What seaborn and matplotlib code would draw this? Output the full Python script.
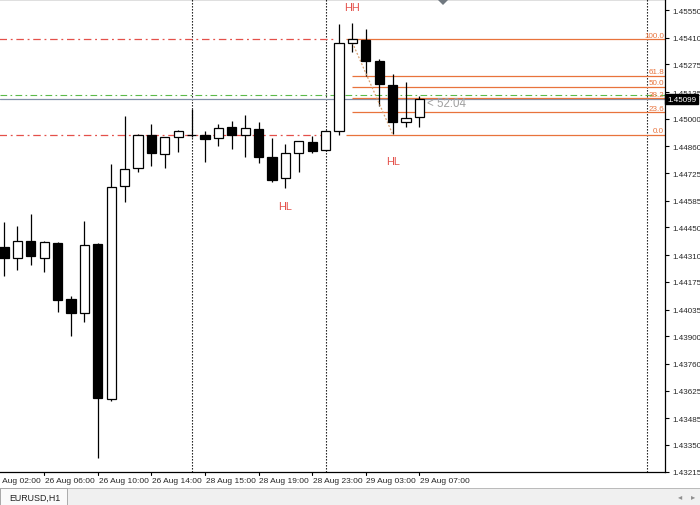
import numpy as np
import pandas as pd
import matplotlib
matplotlib.use("Agg")
import matplotlib.pyplot as plt
import matplotlib.patches as mpatches
import seaborn as sns

# EURUSD H1 candles, 26 Aug 03:00 .. 29 Aug 07:00
opens = [1.44353, 1.44297, 1.44382, 1.44297, 1.44372, 1.44089, 1.44018, 1.44367,
         1.43583, 1.44658, 1.44749, 1.44918, 1.44822, 1.44906, 1.44920, 1.44918,
         1.44903, 1.44957, 1.44916, 1.44948, 1.44805, 1.44699, 1.44827, 1.44881,
         1.44844, 1.44937, 1.45385, 1.45398, 1.45292, 1.45172, 1.44982, 1.45007]
highs = [1.44479, 1.44458, 1.44518, 1.44383, 1.44375, 1.44104, 1.44481, 1.44370,
         1.44771, 1.45012, 1.44923, 1.44974, 1.44908, 1.44941, 1.45049, 1.44940,
         1.44974, 1.44990, 1.45021, 1.44982, 1.44901, 1.44871, 1.44888, 1.44914,
         1.44941, 1.45479, 1.45483, 1.45454, 1.45302, 1.45228, 1.45184, 1.45117]
lows = [1.44205, 1.44237, 1.44262, 1.44225, 1.44021, 1.43900, 1.43971, 1.43283,
        1.43573, 1.44578, 1.44732, 1.44763, 1.44753, 1.44833, 1.44910, 1.44780,
        1.44861, 1.44847, 1.44805, 1.44776, 1.44679, 1.44650, 1.44729, 1.44827,
        1.44839, 1.44919, 1.45336, 1.45215, 1.45066, 1.44923, 1.44960, 1.44960]
closes = [1.44296, 1.44382, 1.44304, 1.44375, 1.44082, 1.44018, 1.44362, 1.43586,
          1.44653, 1.44746, 1.44919, 1.44827, 1.44906, 1.44940, 1.44918, 1.44898,
          1.44952, 1.44919, 1.44953, 1.44805, 1.44690, 1.44827, 1.44886, 1.44839,
          1.44940, 1.45382, 1.45402, 1.45291, 1.45177, 1.44985, 1.45005, 1.45099]

# time axis labels (every 4th bar)
tick_bars = [-1, 3, 7, 11, 15, 19, 23, 27, 31]
tick_labels = ["26 Aug 02:00", "26 Aug 06:00", "26 Aug 10:00", "26 Aug 14:00",
               "28 Aug 15:00", "28 Aug 19:00", "28 Aug 23:00", "29 Aug 03:00",
               "29 Aug 07:00"]
separators = [14, 24, 48]  # day breaks

price_ticks = [1.45550, 1.45410, 1.45275, 1.45135, 1.45000, 1.44860, 1.44725,
               1.44585, 1.44450, 1.44310, 1.44175, 1.44035, 1.43900, 1.43760,
               1.43625, 1.43485, 1.43350, 1.43215]

bid = 1.45099
ask = 1.45118
hh_level = 1.45403
hl_level = 1.44919
fib_ratios = [0.0, 23.6, 38.2, 50.0, 61.8, 100.0]

df = pd.DataFrame({"open": opens, "high": highs, "low": lows, "close": closes})
df["bar"] = np.arange(len(df))
df["up"] = df["close"] >= df["open"]

sns.set_style("white")
plt.rcParams["font.family"] = ["Liberation Sans", "DejaVu Sans"]

fig = plt.figure(figsize=(7, 5.06), dpi=100)
ax = fig.add_axes([0, 33 / 506, 665 / 700, 473 / 506])

# wicks and bodies
ax.vlines(df["bar"], df["low"], df["high"], color="black", lw=0.9, zorder=3)
body_lo = df[["open", "close"]].min(axis=1)
body_h = (df["close"] - df["open"]).abs().clip(lower=0.00002)
ax.bar(df["bar"], body_h, bottom=body_lo, width=0.68,
       color=np.where(df["up"], "white", "black"), edgecolor="black",
       linewidth=0.9, zorder=4)

# period separators
for s in separators:
    ax.axvline(s, color="black", ls=(0, (1.2, 1.5)), lw=0.8, zorder=2)

# horizontal levels
red = "#e4504a"
ax.hlines(hh_level, -1, 24.7, color=red, ls=(0, (6, 3, 1.5, 3)), lw=0.9, zorder=2)
ax.hlines(hl_level, -1, 24.3, color=red, ls=(0, (6, 3, 1.5, 3)), lw=0.9, zorder=2)
ax.axhline(ask, color="#5cba4a", ls=(0, (6, 3, 1.5, 3)), lw=0.8, zorder=2)
ax.axhline(bid, color="#8290a8", lw=0.9, zorder=2)

# fibonacci retracement
fib_col = "#e8733c"
for r in fib_ratios:
    lvl = hl_level + (hh_level - hl_level) * r / 100
    start = 25.5 if r in (0.0, 100.0) else 26
    ax.hlines(lvl, start, 49.4, color=fib_col, lw=0.9, zorder=2)
    ax.text(49.25, lvl + 0.00003, f"{r:.1f}", color=fib_col, fontsize=5.8,
            ha="right", va="bottom", zorder=5)

# zigzag between the swing points
zz = pd.DataFrame({"bar": [26, 29], "price": [opens[26], lows[29]]})
sns.lineplot(data=zz, x="bar", y="price", ax=ax, color="#d8a070",
             ls=(0, (1.5, 1.5)), lw=0.9, zorder=3)

# swing labels
ax.text(26, 1.45565, "HH", color=red, fontsize=7.8, ha="center", va="center")
ax.text(21, 1.44559, "HL", color=red, fontsize=7.8, ha="center", va="center")
ax.text(29, 1.44786, "HL", color=red, fontsize=7.8, ha="center", va="center")
ax.text(31.55, bid - 0.00019, "< 52:04", color="#a0a0a0", fontsize=8.3,
        ha="left", va="center")

ax.set_xlim(-0.3, 49.33)
ax.set_ylim(1.43213, 1.45606)

ax.yaxis.tick_right()
ax.set_yticks(price_ticks)
ax.set_yticklabels([f"{p:.5f}" for p in price_ticks])
ax.set_xlabel("")
ax.set_ylabel("")
ax.tick_params(axis="y", length=3, width=0.8, pad=2, labelsize=5.8,
               direction="out", right=True, left=False, color="black")

# time labels: left-aligned at each tick, first one runs off the left edge
for b, lab in zip(tick_bars, tick_labels):
    ax.plot([b, b], [0, -3 / 473], transform=ax.get_xaxis_transform(),
            color="black", lw=0.8, clip_on=False)
    ax.annotate(lab, xy=(b, 0), xycoords=("data", "axes fraction"),
                xytext=(0.5, -3.6), textcoords="offset points", fontsize=6.0,
                ha="left", va="top", annotation_clip=False)
ax.set_xticks([])

ax.spines["left"].set_visible(False)
for side in ["right", "bottom", "top"]:
    ax.spines[side].set_color("black")
    ax.spines[side].set_linewidth(0.9)

# current price tag
fig.text(667 / 700, 1 - 100 / 506, f"{bid:.5f}", color="white", fontsize=5.8,
         ha="left", va="center",
         bbox=dict(boxstyle="square,pad=0.2", fc="black", ec="black"))

# chart shift marker
fig.patches.append(mpatches.Polygon([[437 / 700, 1], [449 / 700, 1],
                                     [443 / 700, 1 - 6 / 506]],
                                    closed=True, fc="#707880", ec="none",
                                    transform=fig.transFigure, figure=fig))

# bottom tab strip
fig.patches.append(mpatches.Rectangle((0, 0), 1, 17 / 506, fc="#f0f0f0",
                                      ec="#b0b0b0", lw=0.6,
                                      transform=fig.transFigure, figure=fig))
fig.patches.append(mpatches.Rectangle((0, 0), 67 / 700, 17 / 506, fc="#fafafa",
                                      ec="#a0a0a0", lw=0.6,
                                      transform=fig.transFigure, figure=fig))
fig.text(9 / 700, 8 / 506, "EURUSD,H1", fontsize=6.4, color="#202020",
         ha="left", va="center")
fig.text(680 / 700, 8 / 506, "◂", fontsize=6, color="#909090", ha="center", va="center")
fig.text(693 / 700, 8 / 506, "▸", fontsize=6, color="#909090", ha="center", va="center")

fig.savefig("out.png", dpi=100)
